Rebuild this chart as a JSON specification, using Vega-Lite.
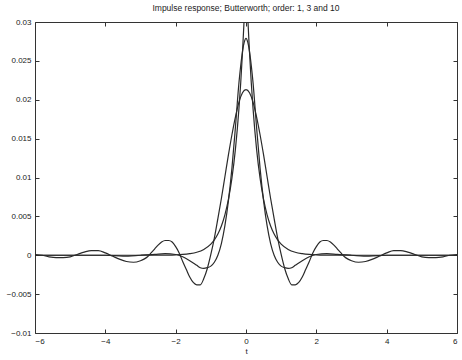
{
  "$schema": "https://vega.github.io/schema/vega-lite/v6.json",
  "width": 422,
  "height": 311,
  "autosize": "none",
  "padding": {"left": 35, "top": 22, "right": 5, "bottom": 27},
  "background": "white",
  "config": {
    "view": {"stroke": "#333", "strokeWidth": 1},
    "font": "Liberation Sans",
    "axis": {"grid": false, "domain": false, "tickColor": "#333", "tickSize": -4, "labelColor": "#222", "labelFontSize": 8, "labelFont": "Liberation Sans", "titleFont": "Liberation Sans", "titleFontSize": 8, "titleFontWeight": "normal", "titleColor": "#222"}
  },
  "title": {"text": "Impulse response; Butterworth; order: 1, 3 and 10", "fontSize": 8.5, "fontWeight": "normal", "font": "Liberation Sans", "color": "#222", "offset": 6},
  "data": {"values": [
    {"o":"10","t":0,"h":0.0213},
    {"o":"10","t":0.1,"h":0.0209},{"o":"10","t":-0.1,"h":0.0209},
    {"o":"10","t":0.2,"h":0.0197},{"o":"10","t":-0.2,"h":0.0197},
    {"o":"10","t":0.3,"h":0.0178},{"o":"10","t":-0.3,"h":0.0178},
    {"o":"10","t":0.4,"h":0.0155},{"o":"10","t":-0.4,"h":0.0155},
    {"o":"10","t":0.5,"h":0.0129},{"o":"10","t":-0.5,"h":0.0129},
    {"o":"10","t":0.6,"h":0.0101},{"o":"10","t":-0.6,"h":0.0101},
    {"o":"10","t":0.7,"h":0.0073},{"o":"10","t":-0.7,"h":0.0073},
    {"o":"10","t":0.8,"h":0.0047},{"o":"10","t":-0.8,"h":0.0047},
    {"o":"10","t":0.9,"h":0.0022},{"o":"10","t":-0.9,"h":0.0022},
    {"o":"10","t":1.0,"h":0.0001},{"o":"10","t":-1.0,"h":0.0001},
    {"o":"10","t":1.1,"h":-0.0017},{"o":"10","t":-1.1,"h":-0.0017},
    {"o":"10","t":1.2,"h":-0.0030},{"o":"10","t":-1.2,"h":-0.0030},
    {"o":"10","t":1.3,"h":-0.0038},{"o":"10","t":-1.3,"h":-0.0038},
    {"o":"10","t":1.4,"h":-0.0038},{"o":"10","t":-1.4,"h":-0.0038},
    {"o":"10","t":1.5,"h":-0.0035},{"o":"10","t":-1.5,"h":-0.0035},
    {"o":"10","t":1.6,"h":-0.0028},{"o":"10","t":-1.6,"h":-0.0028},
    {"o":"10","t":1.7,"h":-0.0018},{"o":"10","t":-1.7,"h":-0.0018},
    {"o":"10","t":1.8,"h":-0.0008},{"o":"10","t":-1.8,"h":-0.0008},
    {"o":"10","t":1.9,"h":0.0003},{"o":"10","t":-1.9,"h":0.0003},
    {"o":"10","t":2.0,"h":0.0011},{"o":"10","t":-2.0,"h":0.0011},
    {"o":"10","t":2.1,"h":0.0017},{"o":"10","t":-2.1,"h":0.0017},
    {"o":"10","t":2.2,"h":0.0019},{"o":"10","t":-2.2,"h":0.0019},
    {"o":"10","t":2.3,"h":0.0019},{"o":"10","t":-2.3,"h":0.0019},
    {"o":"10","t":2.4,"h":0.0017},{"o":"10","t":-2.4,"h":0.0017},
    {"o":"10","t":2.5,"h":0.0013},{"o":"10","t":-2.5,"h":0.0013},
    {"o":"10","t":2.6,"h":0.0008},{"o":"10","t":-2.6,"h":0.0008},
    {"o":"10","t":2.7,"h":0.0003},{"o":"10","t":-2.7,"h":0.0003},
    {"o":"10","t":2.8,"h":-0.0002},{"o":"10","t":-2.8,"h":-0.0002},
    {"o":"10","t":2.9,"h":-0.0005},{"o":"10","t":-2.9,"h":-0.0005},
    {"o":"10","t":3.0,"h":-0.0007},{"o":"10","t":-3.0,"h":-0.0007},
    {"o":"10","t":3.2,"h":-0.0009},{"o":"10","t":-3.2,"h":-0.0009},
    {"o":"10","t":3.4,"h":-0.0008},{"o":"10","t":-3.4,"h":-0.0008},
    {"o":"10","t":3.6,"h":-0.0005},{"o":"10","t":-3.6,"h":-0.0005},
    {"o":"10","t":3.8,"h":-0.0001},{"o":"10","t":-3.8,"h":-0.0001},
    {"o":"10","t":4.0,"h":0.0003},{"o":"10","t":-4.0,"h":0.0003},
    {"o":"10","t":4.2,"h":0.0006},{"o":"10","t":-4.2,"h":0.0006},
    {"o":"10","t":4.4,"h":0.0006},{"o":"10","t":-4.4,"h":0.0006},
    {"o":"10","t":4.6,"h":0.0004},{"o":"10","t":-4.6,"h":0.0004},
    {"o":"10","t":4.8,"h":0.0001},{"o":"10","t":-4.8,"h":0.0001},
    {"o":"10","t":5.0,"h":-0.0002},{"o":"10","t":-5.0,"h":-0.0002},
    {"o":"10","t":5.2,"h":-0.0003},{"o":"10","t":-5.2,"h":-0.0003},
    {"o":"10","t":5.4,"h":-0.0003},{"o":"10","t":-5.4,"h":-0.0003},
    {"o":"10","t":5.6,"h":-0.0002},{"o":"10","t":-5.6,"h":-0.0002},
    {"o":"10","t":5.8,"h":0.0000},{"o":"10","t":-5.8,"h":0.0000},
    {"o":"10","t":6.0,"h":0.0001},{"o":"10","t":-6.0,"h":0.0001},

    {"o":"3","t":0,"h":0.0279},
    {"o":"3","t":0.05,"h":0.0274},{"o":"3","t":-0.05,"h":0.0274},
    {"o":"3","t":0.1,"h":0.0262},{"o":"3","t":-0.1,"h":0.0262},
    {"o":"3","t":0.15,"h":0.0244},{"o":"3","t":-0.15,"h":0.0244},
    {"o":"3","t":0.2,"h":0.0222},{"o":"3","t":-0.2,"h":0.0222},
    {"o":"3","t":0.3,"h":0.0165},{"o":"3","t":-0.3,"h":0.0165},
    {"o":"3","t":0.4,"h":0.0112},{"o":"3","t":-0.4,"h":0.0112},
    {"o":"3","t":0.5,"h":0.0070},{"o":"3","t":-0.5,"h":0.0070},
    {"o":"3","t":0.6,"h":0.0038},{"o":"3","t":-0.6,"h":0.0038},
    {"o":"3","t":0.7,"h":0.0015},{"o":"3","t":-0.7,"h":0.0015},
    {"o":"3","t":0.8,"h":0.0000},{"o":"3","t":-0.8,"h":0.0000},
    {"o":"3","t":0.9,"h":-0.0009},{"o":"3","t":-0.9,"h":-0.0009},
    {"o":"3","t":1.0,"h":-0.0014},{"o":"3","t":-1.0,"h":-0.0014},
    {"o":"3","t":1.1,"h":-0.0016},{"o":"3","t":-1.1,"h":-0.0016},
    {"o":"3","t":1.2,"h":-0.0017},{"o":"3","t":-1.2,"h":-0.0017},
    {"o":"3","t":1.3,"h":-0.0016},{"o":"3","t":-1.3,"h":-0.0016},
    {"o":"3","t":1.4,"h":-0.0013},{"o":"3","t":-1.4,"h":-0.0013},
    {"o":"3","t":1.6,"h":-0.0007},{"o":"3","t":-1.6,"h":-0.0007},
    {"o":"3","t":1.8,"h":-0.0002},{"o":"3","t":-1.8,"h":-0.0002},
    {"o":"3","t":2.0,"h":0.0001},{"o":"3","t":-2.0,"h":0.0001},
    {"o":"3","t":2.3,"h":0.0002},{"o":"3","t":-2.3,"h":0.0002},
    {"o":"3","t":2.6,"h":0.0001},{"o":"3","t":-2.6,"h":0.0001},
    {"o":"3","t":3.0,"h":0.0000},{"o":"3","t":-3.0,"h":0.0000},
    {"o":"3","t":3.5,"h":-0.0001},{"o":"3","t":-3.5,"h":-0.0001},
    {"o":"3","t":4.0,"h":0.0000},{"o":"3","t":-4.0,"h":0.0000},
    {"o":"3","t":5.0,"h":0.0000},{"o":"3","t":-5.0,"h":0.0000},
    {"o":"3","t":6.0,"h":0.0000},{"o":"3","t":-6.0,"h":0.0000},

    {"o":"1","t":0,"h":0.036},
    {"o":"1","t":0.02,"h":0.03375},{"o":"1","t":-0.02,"h":0.03375},
    {"o":"1","t":0.05,"h":0.0306},{"o":"1","t":-0.05,"h":0.0306},
    {"o":"1","t":0.1,"h":0.02607},{"o":"1","t":-0.1,"h":0.02607},
    {"o":"1","t":0.15,"h":0.02219},{"o":"1","t":-0.15,"h":0.02219},
    {"o":"1","t":0.2,"h":0.01889},{"o":"1","t":-0.2,"h":0.01889},
    {"o":"1","t":0.3,"h":0.01368},{"o":"1","t":-0.3,"h":0.01368},
    {"o":"1","t":0.4,"h":0.00991},{"o":"1","t":-0.4,"h":0.00991},
    {"o":"1","t":0.5,"h":0.00718},{"o":"1","t":-0.5,"h":0.00718},
    {"o":"1","t":0.6,"h":0.0052},{"o":"1","t":-0.6,"h":0.0052},
    {"o":"1","t":0.7,"h":0.00377},{"o":"1","t":-0.7,"h":0.00377},
    {"o":"1","t":0.8,"h":0.00273},{"o":"1","t":-0.8,"h":0.00273},
    {"o":"1","t":0.9,"h":0.00197},{"o":"1","t":-0.9,"h":0.00197},
    {"o":"1","t":1.0,"h":0.00143},{"o":"1","t":-1.0,"h":0.00143},
    {"o":"1","t":1.2,"h":0.00075},{"o":"1","t":-1.2,"h":0.00075},
    {"o":"1","t":1.4,"h":0.00039},{"o":"1","t":-1.4,"h":0.00039},
    {"o":"1","t":1.6,"h":0.00021},{"o":"1","t":-1.6,"h":0.00021},
    {"o":"1","t":1.8,"h":0.00011},{"o":"1","t":-1.8,"h":0.00011},
    {"o":"1","t":2.0,"h":0.00006},{"o":"1","t":-2.0,"h":0.00006},
    {"o":"1","t":2.5,"h":0.00001},{"o":"1","t":-2.5,"h":0.00001},
    {"o":"1","t":3.0,"h":0.0},{"o":"1","t":-3.0,"h":0.0},
    {"o":"1","t":4.0,"h":0.0},{"o":"1","t":-4.0,"h":0.0},
    {"o":"1","t":5.0,"h":0.0},{"o":"1","t":-5.0,"h":0.0},
    {"o":"1","t":6.0,"h":0.0},{"o":"1","t":-6.0,"h":0.0}
  ]},
  "layer": [
    {
      "mark": {"type": "line", "color": "#2a2a2a", "strokeWidth": 1.2, "clip": true, "interpolate": "monotone"},
      "encoding": {
        "x": {"field": "t", "type": "quantitative", "scale": {"domain": [-6, 6], "nice": false, "zero": false}, "axis": {"orient": "bottom", "title": "t", "values": [-6, -4, -2, 0, 2, 4, 6], "labelPadding": 8, "titlePadding": 2}},
        "y": {"field": "h", "type": "quantitative", "scale": {"domain": [-0.01, 0.03], "nice": false, "zero": false}, "axis": {"orient": "left", "title": null, "values": [-0.01, -0.005, 0, 0.005, 0.01, 0.015, 0.02, 0.025, 0.03], "format": "~g", "labelPadding": 8}},
        "detail": {"field": "o", "type": "nominal"}
      }
    },
    {
      "mark": {"type": "line", "strokeOpacity": 0, "clip": true},
      "encoding": {
        "x": {"field": "t", "type": "quantitative", "axis": {"orient": "top", "title": null, "labels": false, "values": [-6, -4, -2, 0, 2, 4, 6]}},
        "y": {"field": "h", "type": "quantitative", "axis": {"orient": "right", "title": null, "labels": false, "values": [-0.01, -0.005, 0, 0.005, 0.01, 0.015, 0.02, 0.025, 0.03]}},
        "detail": {"field": "o", "type": "nominal"}
      }
    }
  ],
  "resolve": {"axis": {"x": "independent", "y": "independent"}}
}
